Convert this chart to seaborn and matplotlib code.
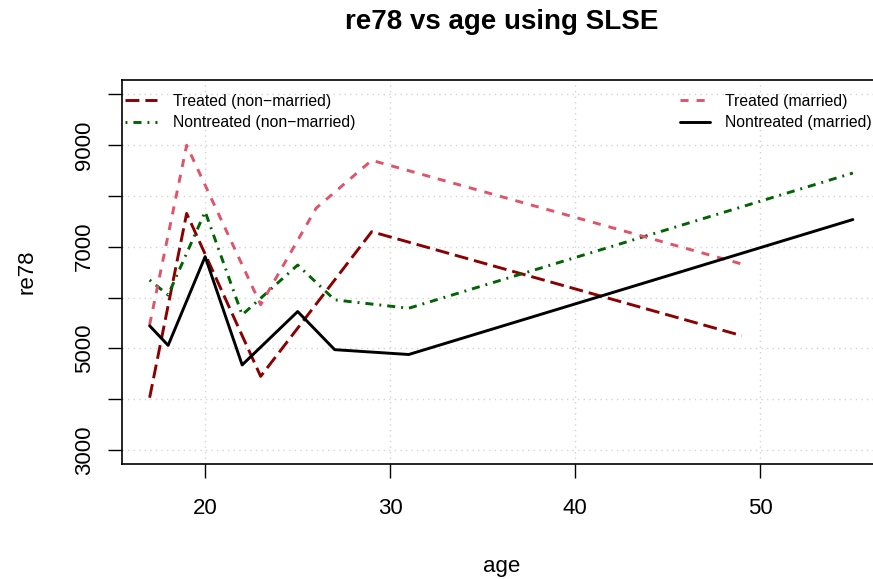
import matplotlib
matplotlib.use("Agg")
import matplotlib.pyplot as plt
import seaborn as sns
import numpy as np
import pandas as pd

# ---- data ----
age_treat_nm = [17, 19, 23, 29, 49]
re78_treat_nm = [4030, 7655, 4450, 7295, 5250]

age_nontreat_nm = [17, 18, 20, 22, 25, 27, 31, 55]
re78_nontreat_nm = [6345, 6050, 7690, 5660, 6640, 5955, 5790, 8450]

age_treat_m = [17, 19, 23, 26, 29, 49]
re78_treat_m = [5465, 8995, 5860, 7760, 8700, 6660]

age_nontreat_m = [17, 18, 20, 22, 25, 27, 31, 55]
re78_nontreat_m = [5445, 5060, 6805, 4675, 5725, 4975, 4880, 7535]

x_ticks = [20, 30, 40, 50]
y_ticks = [3000, 4000, 5000, 6000, 7000, 8000, 9000, 10000]
y_ticklabels = ["3000", "", "5000", "", "7000", "", "9000", ""]

labels_left = ["Treated (non\u2212married)", "Nontreated (non\u2212married)"]
labels_right = ["Treated (married)", "Nontreated (married)"]

sns.set_style("white")
plt.rcParams['font.family'] = ['Liberation Sans', 'DejaVu Sans']
plt.rcParams['lines.scale_dashes'] = False
for k in ['text.color', 'axes.labelcolor', 'xtick.color', 'ytick.color']:
    plt.rcParams[k] = 'black'

W, H = 873, 579
fig = plt.figure(figsize=(W / 100, H / 100), dpi=100)
ax_l, ax_r, ax_t, ax_b = 121.5, 881.0, 80.0, 464.3
ax = fig.add_axes([ax_l / W, (H - ax_b) / H, (ax_r - ax_l) / W, (ax_b - ax_t) / H])

lw = 2.1
series = [
    (age_treat_nm, re78_treat_nm, "#8B0000", (0, (10, 4.3))),
    (age_nontreat_nm, re78_nontreat_nm, "#006400", (0, (1.4, 4.3, 5.8, 4.3))),
    (age_treat_m, re78_treat_m, "#DF536B", (0, (5.8, 5.8))),
    (age_nontreat_m, re78_nontreat_m, "black", "-"),
]
handles = []
for xs, ys, col, ls in series:
    df = pd.DataFrame({"age": xs, "re78": ys})
    sns.lineplot(data=df, x="age", y="re78", ax=ax, color=col, linestyle=ls,
                 linewidth=lw, sort=False, estimator=None, zorder=3)
    handles.append(ax.lines[-1])

# grid (R grid(): lightgray dotted)
ax.set_xticks(x_ticks)
ax.set_yticks(y_ticks)
ax.grid(True, color="#D3D3D3", linestyle=(0, (1, 3)), linewidth=1.0, zorder=0)

ax.set_xlim(15.48, 56.52)
ax.set_ylim(2720, 10280)

ax.set_xticklabels([str(t) for t in x_ticks], fontsize=16)
ax.set_yticklabels(y_ticklabels, fontsize=16, rotation=90, va="center")
ax.tick_params(axis="both", direction="out", length=10, width=1.0, color="black",
               bottom=True, left=True)
ax.tick_params(axis="x", pad=14)
ax.tick_params(axis="y", pad=9)

for s in ax.spines.values():
    s.set_visible(True)
    s.set_color("black")
    s.set_linewidth(1.2)

ax.set_xlabel("age", fontsize=16, labelpad=27)
ax.set_ylabel("re78", fontsize=16, labelpad=26)

fig.text((ax_l + ax_r) / 2 / W, 1 - 22 / H, "re78 vs age using SLSE",
         ha="center", va="center", fontsize=20, fontweight="bold")

leg_fs = 11.3
leg1 = ax.legend(handles[:2], labels_left, loc="upper left",
                 bbox_to_anchor=((125 - ax_l) / (ax_r - ax_l), 0.964),
                 frameon=False, fontsize=leg_fs, handlelength=2.05, handletextpad=1.0,
                 borderpad=0, borderaxespad=0, labelspacing=0.4)
ax.add_artist(leg1)
ax.legend(handles[2:], labels_right, loc="upper left",
          bbox_to_anchor=((680 - ax_l) / (ax_r - ax_l), 0.964),
          frameon=False, fontsize=leg_fs, handlelength=1.9, handletextpad=0.95,
          borderpad=0, borderaxespad=0, labelspacing=0.4)

fig.savefig("out.png", dpi=100)
